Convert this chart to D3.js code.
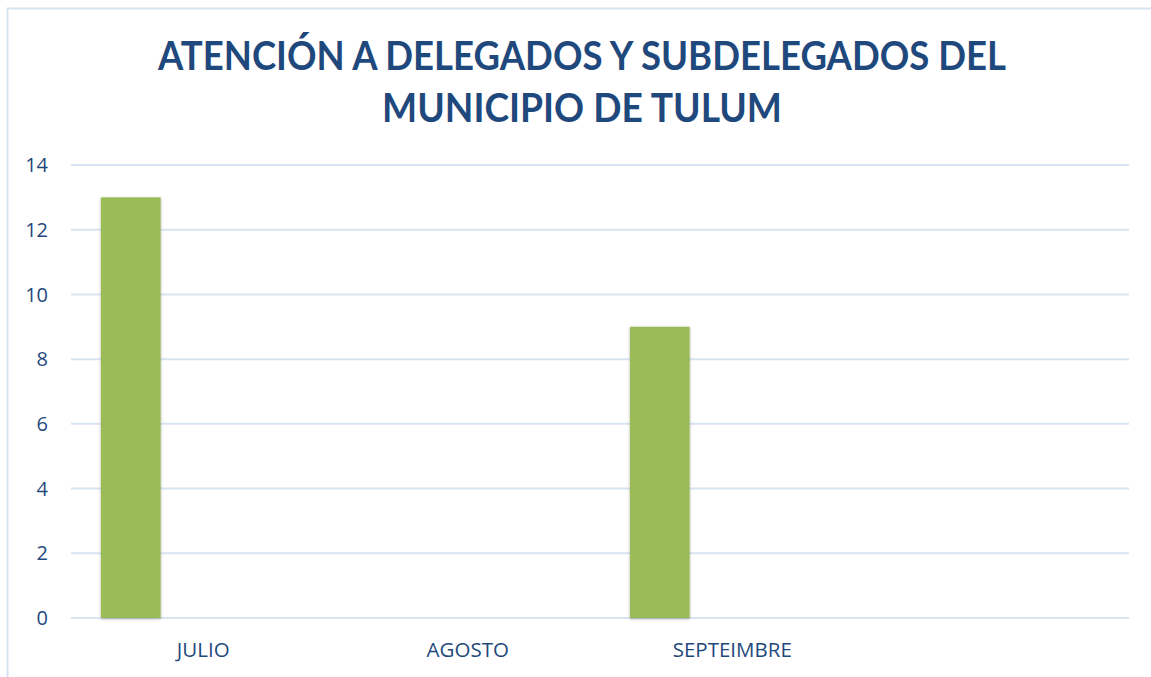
<!doctype html>
<html>
<head>
<meta charset="utf-8">
<script src="https://cdn.jsdelivr.net/npm/d3@7"></script>
<style>
  body { margin: 0; background: #fff; }
</style>
</head>
<body>
<script>
const titleLines = ["ATENCIÓN A DELEGADOS Y SUBDELEGADOS DEL", "MUNICIPIO DE TULUM"];
const months = ["JULIO", "AGOSTO", "SEPTEIMBRE", ""];
const values = [13, null, 9, null];
const yTicks = [0, 2, 4, 6, 8, 10, 12, 14];

const width = 1151, height = 677;
const margin = {top: 165, right: 22, bottom: 59, left: 71};
const navy = "#1F497D";

const svg = d3.select("body").append("svg")
    .attr("width", width)
    .attr("height", height)
    .attr("font-family", "'Open Sans', sans-serif");

// chart frame (only top and left edges visible in the crop)
svg.append("path")
    .attr("d", `M7.5,${height}V8.5H${width}`)
    .attr("fill", "none")
    .attr("stroke", "#d6e3f3")
    .attr("stroke-width", 2);

const title = svg.append("g")
    .attr("fill", navy)
    .attr("font-family", "Lato, 'Open Sans', sans-serif")
    .attr("font-weight", "bold")
    .attr("font-size", 40)
    .attr("text-anchor", "middle");

title.selectAll("text")
  .data(titleLines)
  .join("text")
    .attr("x", 582)
    .attr("y", (d, i) => 70 + i * 52)
    .text(d => d)
    .each(function(d, i) {
      const target = i === 0 ? 848 : 400;
      if (this.getComputedTextLength() > 0) {
        d3.select(this).attr("textLength", target).attr("lengthAdjust", "spacingAndGlyphs");
      }
    });

const x = d3.scaleBand()
    .domain(d3.range(months.length))
    .range([margin.left, width - margin.right]);

const y = d3.scaleLinear()
    .domain([0, 14])
    .range([height - margin.bottom, margin.top]);

// gridlines
svg.append("g")
    .attr("stroke", "#d9e4f2")
    .attr("stroke-width", 2)
  .selectAll("line")
  .data(yTicks)
  .join("line")
    .attr("x1", margin.left)
    .attr("x2", width - margin.right)
    .attr("y1", d => y(d))
    .attr("y2", d => y(d));

// y axis labels
svg.append("g")
    .attr("fill", navy)
    .attr("font-size", 20)
    .attr("text-anchor", "end")
  .selectAll("text")
  .data(yTicks)
  .join("text")
    .attr("x", 48)
    .attr("y", d => y(d))
    .attr("dy", "0.36em")
    .text(d => d);

// bars: single series sitting at the left of each category slot
const defs = svg.append("defs");
const shadow = defs.append("filter").attr("id", "sh").attr("x", "-20%").attr("y", "-5%").attr("width", "140%").attr("height", "110%");
shadow.append("feDropShadow").attr("dx", 0).attr("dy", 1).attr("stdDeviation", 1.5).attr("flood-color", "#000").attr("flood-opacity", 0.3);

const barOffset = 0.113, barWidth = 0.226;
svg.append("g")
    .attr("fill", "#9BBB59")
  .selectAll("rect")
  .data(values.map((v, i) => ({i, v})).filter(d => d.v != null))
  .join("rect")
    .attr("filter", "url(#sh)")
    .attr("x", d => x(d.i) + x.bandwidth() * barOffset)
    .attr("width", x.bandwidth() * barWidth)
    .attr("y", d => y(d.v))
    .attr("height", d => y(0) - y(d.v));

// category labels
svg.append("g")
    .attr("fill", navy)
    .attr("font-size", 20.5)
    .attr("text-anchor", "middle")
  .selectAll("text")
  .data(months)
  .join("text")
    .attr("x", (d, i) => x(i) + x.bandwidth() / 2)
    .attr("y", 657)
    .text(d => d);
</script>
</body>
</html>
